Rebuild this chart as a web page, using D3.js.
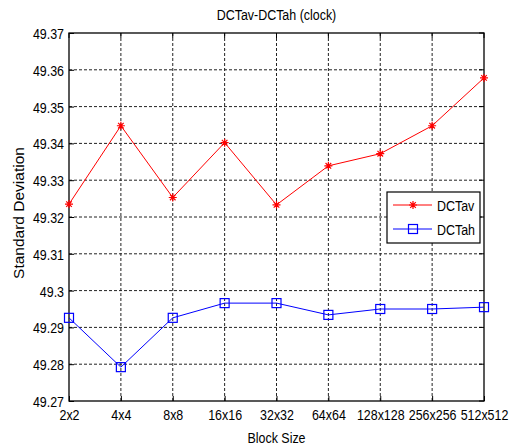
<!DOCTYPE html>
<html>
<head>
<meta charset="utf-8">
<script src="https://cdn.jsdelivr.net/npm/d3@7"></script>
<style>
  body { margin: 0; background: #fff; }
  svg text { font-family: "Liberation Sans", Arial, sans-serif; font-size: 15px; fill: #000; }
</style>
</head>
<body>
<svg id="chart" width="514" height="446"></svg>
<script>
// block sizes (x categories)
const BLOCKS = ["2x2", "4x4", "8x8", "16x16", "32x32", "64x64", "128x128", "256x256", "512x512"];
// standard deviation per block size
const DCTAV = [49.3235, 49.3448, 49.3253, 49.3402, 49.3233, 49.3339, 49.3372, 49.3448, 49.3578];
const DCTAH = [49.2926, 49.2792, 49.2926, 49.2966, 49.2966, 49.2934, 49.2950, 49.2950, 49.2955];
const Y_TICKS = [49.27, 49.28, 49.29, 49.3, 49.31, 49.32, 49.33, 49.34, 49.35, 49.36, 49.37];

// matlab style narrow font
const NARROW = 0.83;

const config = {
  margin: { top: 33, right: 30, bottom: 45, left: 69 },
};
config.width = 514 - config.margin.left - config.margin.right;
config.height = 446 - config.margin.top - config.margin.bottom;

const svg = d3
  .select("#chart")
  .append("g")
  .attr("transform", `translate(${config.margin.left}, ${config.margin.top})`);

// add a horizontally squeezed text at (x, y)
function addText(g, x, y, str, anchor = "middle", rotate = 0, squeeze = NARROW) {
  return g
    .append("text")
    .attr("text-anchor", anchor)
    .attr("transform", `translate(${x}, ${y}) rotate(${rotate}) scale(${squeeze}, 1)`)
    .text(str);
}

// block index scale (x-axis)
const xScale = d3.scalePoint().domain(BLOCKS).range([0, config.width]);

// standard deviation scale (y-axis)
const yScale = d3.scaleLinear().domain([49.27, 49.37]).range([config.height, 0]);

// dashed grid
const grid = svg.append("g").attr("class", "grid");
grid
  .selectAll("line.gx")
  .data(BLOCKS.slice(1, -1))
  .join("line")
  .attr("class", "gx")
  .attr("x1", (d) => xScale(d))
  .attr("x2", (d) => xScale(d))
  .attr("y1", 0)
  .attr("y2", config.height);
grid
  .selectAll("line.gy")
  .data(Y_TICKS.slice(1, -1))
  .join("line")
  .attr("class", "gy")
  .attr("x1", 0)
  .attr("x2", config.width)
  .attr("y1", (d) => yScale(d))
  .attr("y2", (d) => yScale(d));
grid
  .selectAll("line")
  .attr("stroke", "#222")
  .attr("stroke-width", 1)
  .attr("stroke-dasharray", "3,2");

// axes, ticks pointing inwards like matlab
const xAxis = svg
  .append("g")
  .attr("class", "axis axis-x")
  .attr("transform", `translate(0, ${config.height})`)
  .call(d3.axisBottom(xScale).tickSizeInner(-5).tickSizeOuter(0));
const yAxis = svg
  .append("g")
  .attr("class", "axis axis-y")
  .call(
    d3
      .axisLeft(yScale)
      .tickValues(Y_TICKS)
      .tickFormat((d) => String(+d.toFixed(2)))
      .tickSizeInner(-5)
      .tickSizeOuter(0)
  );
svg.selectAll(".axis path").remove();
svg.selectAll(".axis .tick line").attr("stroke", "#000");
svg.selectAll(".axis text").attr("font-size", null).attr("font-family", null);
xAxis
  .selectAll("text")
  .attr("y", 0)
  .attr("dy", 0)
  .attr("transform", `translate(0, 19) scale(${NARROW}, 1)`);
yAxis
  .selectAll("text")
  .attr("x", 0)
  .attr("dy", "0.36em")
  .attr("transform", `translate(-5, 0) scale(${NARROW}, 1)`);

// top/right ticks
svg
  .append("g")
  .selectAll("line")
  .data(BLOCKS)
  .join("line")
  .attr("x1", (d) => xScale(d))
  .attr("x2", (d) => xScale(d))
  .attr("y1", 0)
  .attr("y2", 5)
  .attr("stroke", "#000");
svg
  .append("g")
  .selectAll("line")
  .data(Y_TICKS)
  .join("line")
  .attr("x1", config.width - 5)
  .attr("x2", config.width)
  .attr("y1", (d) => yScale(d))
  .attr("y2", (d) => yScale(d))
  .attr("stroke", "#000");

// frame
svg
  .append("rect")
  .attr("width", config.width)
  .attr("height", config.height)
  .attr("fill", "none")
  .attr("stroke", "#000")
  .attr("stroke-width", 1.3);

const SERIES = [
  { name: "DCTav", values: DCTAV, color: "#ff0000", marker: "star" },
  { name: "DCTah", values: DCTAH, color: "#0000ff", marker: "square" },
];

// draw a marker centered at (x, y)
function drawMarker(g, type, x, y, color) {
  if (type === "star") {
    const r = 4;
    const p = `M${x - r},${y}H${x + r}M${x},${y - r}V${y + r}` +
      `M${x - r * 0.7},${y - r * 0.7}L${x + r * 0.7},${y + r * 0.7}` +
      `M${x - r * 0.7},${y + r * 0.7}L${x + r * 0.7},${y - r * 0.7}`;
    g.append("path").attr("d", p).attr("stroke", color).attr("stroke-width", 1.2).attr("fill", "none");
  } else {
    g.append("rect")
      .attr("x", x - 4.5)
      .attr("y", y - 4.5)
      .attr("width", 9)
      .attr("height", 9)
      .attr("fill", "none")
      .attr("stroke", color)
      .attr("stroke-width", 1.2);
  }
}

SERIES.forEach((s) => {
  const data = BLOCKS.map((b, i) => ({ block: b, value: s.values[i] }));
  svg
    .append("path")
    .datum(data)
    .attr("fill", "none")
    .attr("stroke", s.color)
    .attr("stroke-width", 1)
    .attr(
      "d",
      d3
        .line()
        .x((d) => xScale(d.block))
        .y((d) => yScale(d.value))
    );
  const g = svg.append("g");
  data.forEach((d) => drawMarker(g, s.marker, xScale(d.block), yScale(d.value), s.color));
});

// legend
const legend = svg.append("g").attr("transform", "translate(318, 159)");
legend
  .append("rect")
  .attr("width", 93)
  .attr("height", 51)
  .attr("fill", "#fff")
  .attr("stroke", "#000")
  .attr("stroke-width", 1.2);
SERIES.forEach((s, i) => {
  const y = 13 + i * 24;
  legend
    .append("line")
    .attr("x1", 6)
    .attr("x2", 45)
    .attr("y1", y)
    .attr("y2", y)
    .attr("stroke", s.color)
    .attr("stroke-width", 1);
  drawMarker(legend, s.marker, 26, y, s.color);
  addText(legend, 50, y + 5.5, s.name, "start");
});

// title
addText(svg, config.width / 2, -13, "DCTav-DCTah (clock)");

// x-axis label
addText(svg, config.width / 2, config.height + 42, "Block Size");

// y-axis label (matlab keeps rotated text at full width)
addText(svg, -51, config.height / 2 - 4, "Standard Deviation", "middle", -90, 1)
  .attr("dy", "0.36em")
  .style("font-size", "15.5px");
</script>
</body>
</html>
